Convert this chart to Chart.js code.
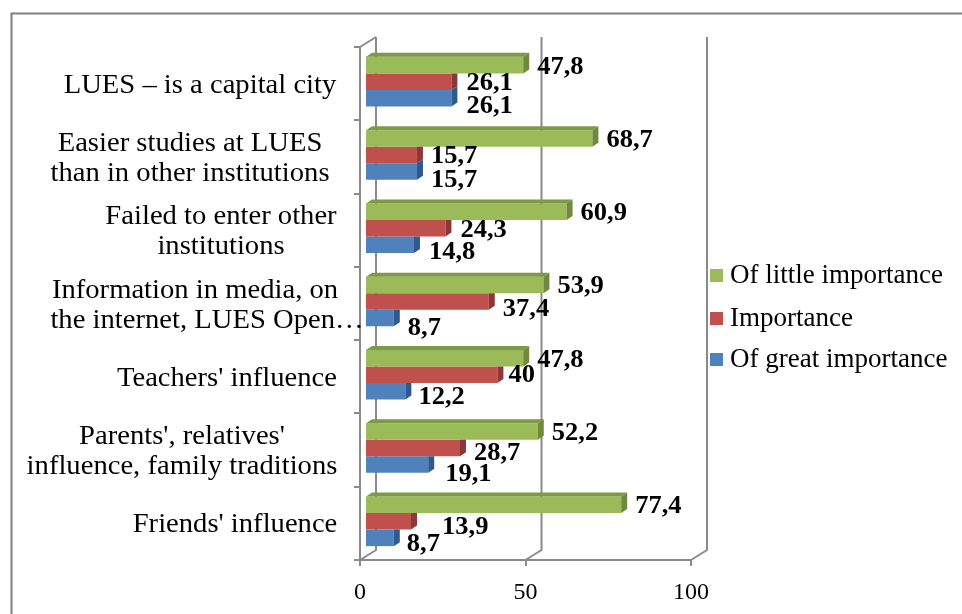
<!DOCTYPE html>
<html>
<head>
<meta charset="utf-8">
<title>Reasons for choosing LUES</title>
<script src="https://cdn.jsdelivr.net/npm/chart.js@4"></script>
<style>
    html, body { margin: 0; padding: 0; background: #fff; overflow: hidden; }
    #wrap { width: 962px; height: 614px; position: relative; }
    #reasonChart { filter: blur(0.4px); }
</style>
</head>
<body>
<div id="wrap"><canvas id="reasonChart" width="962" height="614"></canvas></div>
<script>
var categories = [
    ['LUES – is a capital city'],
    ['Easier studies at LUES', 'than in other institutions'],
    ['Failed to enter other', 'institutions'],
    ['Information in media, on', 'the internet, LUES Open…'],
    ["Teachers' influence"],
    ["Parents', relatives'", 'influence, family traditions'],
    ["Friends' influence"]
];
var littleImportance = [47.8, 68.7, 60.9, 53.9, 47.8, 52.2, 77.4];
var importance = [26.1, 15.7, 24.3, 37.4, 40, 28.7, 13.9];
var greatImportance = [26.1, 15.7, 14.8, 8.7, 12.2, 19.1, 8.7];
var xTicks = [0, 50, 100];

// category text is not aligned to anything in the original, centre x per line
var lineCentres = [[200], [190, 190], [221, 221], [195, 207], [227], [182, 182], [235]];

// hand placed value labels in the original, nudges per series
var labelNudgeX = [
    [0, 0, 0, 0, 0, 0, 0],
    [1, 0, 1, 0, -3, 0, 17],
    [1, 0, 1, 0, -1, 3, -1]
];
var labelNudgeY = [
    [0, 0, 0, 0, 0, 0, 0],
    [0, 0, 0, 6, -1, 3, 4],
    [6, 7, 6, 9, 4, 8, 5]
];

var serif = '"Liberation Serif", "Times New Roman", serif';
var sideColors = ['#71893f', '#8c3836', '#2f5a8c'];
var topColors = ['#7d9a45', '#953b38', '#386aa5'];
var legendRows = [275, 318, 359];

// bars sit a little in front of the back wall
var barShift = { x: 5, y: -2 };
var barDepth = { x: 6, y: 4 };
var wallDepth = { x: 16, y: -10 };

// the reference is stretched sideways, so text is too
function stretchedText(ctx, text, x, y, stretch) {
    ctx.save();
    ctx.translate(x, y);
    ctx.scale(stretch, 1);
    ctx.fillText(text, 0, 0);
    ctx.restore();
}

var framePlugin = {
    id: 'frame',
    beforeDraw: function (chart) {
        var ctx = chart.ctx;
        ctx.save();
        ctx.strokeStyle = '#7f7f7f';
        ctx.lineWidth = 2;
        ctx.beginPath();
        ctx.moveTo(11.5, chart.height);
        ctx.lineTo(11.5, 13.5);
        ctx.lineTo(chart.width, 13.5);
        ctx.stroke();
        ctx.restore();
    }
};

var wallsPlugin = {
    id: 'walls',
    beforeDatasetsDraw: function (chart) {
        var ctx = chart.ctx;
        var area = chart.chartArea;
        var xs = chart.scales.x;
        ctx.save();
        ctx.strokeStyle = '#8a8a8a';
        ctx.lineWidth = 2;
        ctx.beginPath();
        xTicks.forEach(function (t) {
            var px = xs.getPixelForValue(t);
            ctx.moveTo(px, area.bottom);
            ctx.lineTo(px + wallDepth.x, area.bottom + wallDepth.y);
            ctx.lineTo(px + wallDepth.x, area.top + wallDepth.y);
        });
        ctx.moveTo(area.left, area.top);
        ctx.lineTo(area.left + wallDepth.x, area.top + wallDepth.y);
        ctx.stroke();
        ctx.restore();
    }
};

var bars3dPlugin = {
    id: 'bars3d',
    beforeDatasetsDraw: function (chart) {
        chart.ctx.save();
        chart.ctx.translate(barShift.x, barShift.y);
    },
    afterDatasetsDraw: function (chart) {
        var ctx = chart.ctx;
        chart.data.datasets.forEach(function (ds, d) {
            chart.getDatasetMeta(d).data.forEach(function (bar, i) {
                var top = bar.y - bar.height / 2;
                var bottom = bar.y + bar.height / 2;
                // only the uppermost bar shows its top face
                if (d === 0) {
                    ctx.fillStyle = topColors[d];
                    ctx.beginPath();
                    ctx.moveTo(bar.base, top);
                    ctx.lineTo(bar.base + barDepth.x, top - barDepth.y);
                    ctx.lineTo(bar.x + barDepth.x, top - barDepth.y);
                    ctx.lineTo(bar.x, top);
                    ctx.closePath();
                    ctx.fill();
                }
                // a longer bar above hides the upper corner of the side face
                var above = d > 0 ? chart.getDatasetMeta(d - 1).data[i] : null;
                var hidden = above && above.x > bar.x + barDepth.x;
                ctx.fillStyle = sideColors[d];
                ctx.beginPath();
                ctx.moveTo(bar.x, top);
                ctx.lineTo(bar.x + barDepth.x, hidden ? top : top - barDepth.y);
                ctx.lineTo(bar.x + barDepth.x, bottom - barDepth.y);
                ctx.lineTo(bar.x, bottom);
                ctx.closePath();
                ctx.fill();
            });
        });
        ctx.restore();
    }
};

var textPlugin = {
    id: 'texts',
    afterDraw: function (chart) {
        var ctx = chart.ctx;
        var ys = chart.scales.y;
        ctx.save();
        ctx.fillStyle = '#000';
        ctx.textBaseline = 'middle';

        // category labels
        ctx.font = '27px ' + serif;
        ctx.textAlign = 'center';
        categories.forEach(function (lines, i) {
            var cy = ys.getPixelForTick(i) + 2;
            lines.forEach(function (l, n) {
                stretchedText(ctx, l, lineCentres[i][n], cy + (n - (lines.length - 1) / 2) * 30, 1.06);
            });
        });

        // value labels
        ctx.font = 'bold 25px ' + serif;
        ctx.textAlign = 'left';
        chart.data.datasets.forEach(function (ds, d) {
            chart.getDatasetMeta(d).data.forEach(function (bar, i) {
                var text = String(ds.data[i]).replace('.', ',');
                stretchedText(ctx, text, bar.x + barShift.x + 14 + labelNudgeX[d][i], bar.y + barShift.y + 2 + labelNudgeY[d][i], 1.06);
            });
        });

        // legend
        ctx.font = '27px ' + serif;
        chart.data.datasets.forEach(function (ds, d) {
            ctx.fillStyle = ds.backgroundColor;
            ctx.fillRect(710, legendRows[d] - 6, 13, 13);
            ctx.fillStyle = '#000';
            ctx.fillText(ds.label, 730, legendRows[d] + 1);
        });
        ctx.restore();
    }
};

Chart.defaults.font.family = serif;

var reasonChart = new Chart(document.getElementById('reasonChart').getContext('2d'), {
    type: 'bar',
    data: {
        labels: categories,
        datasets: [
            { label: 'Of little importance', data: littleImportance, backgroundColor: '#9BBB59' },
            { label: 'Importance', data: importance, backgroundColor: '#C0504D' },
            { label: 'Of great importance', data: greatImportance, backgroundColor: '#4F81BD' }
        ]
    },
    options: {
        indexAxis: 'y',
        responsive: false,
        animation: false,
        categoryPercentage: 0.676,
        barPercentage: 1,
        layout: { padding: { left: 354, top: 47, right: 271, bottom: 0 } },
        scales: {
            x: {
                min: 0,
                max: 100,
                afterBuildTicks: function (axis) {
                    axis.ticks = xTicks.map(function (v) { return { value: v }; });
                },
                afterFit: function (axis) {
                    axis.height = 54;
                },
                border: { color: '#8a8a8a', width: 2 },
                grid: { drawOnChartArea: false, color: '#8a8a8a', lineWidth: 2, tickLength: 6 },
                ticks: { color: '#000', font: { size: 24 }, padding: 12, maxRotation: 0 }
            },
            y: {
                border: { color: '#8a8a8a', width: 2 },
                grid: { drawOnChartArea: false, color: '#8a8a8a', lineWidth: 2, tickLength: 6 },
                ticks: { display: false }
            }
        },
        plugins: {
            legend: { display: false },
            tooltip: { enabled: false }
        }
    },
    plugins: [framePlugin, wallsPlugin, bars3dPlugin, textPlugin]
});
</script>
</body>
</html>
